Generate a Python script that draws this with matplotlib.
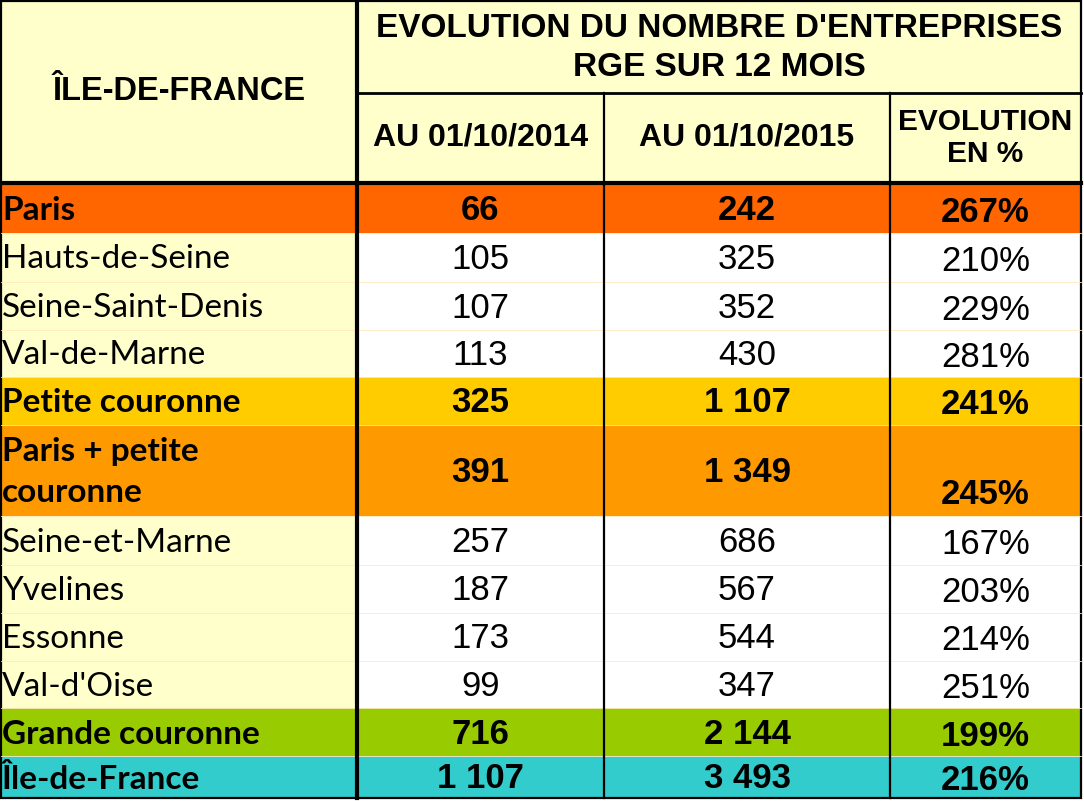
import matplotlib.pyplot as plt
from matplotlib.patches import Rectangle

# donnees du tableau
regions = ["Paris", "Hauts-de-Seine", "Seine-Saint-Denis", "Val-de-Marne",
           "Petite couronne", "Paris + petite\ncouronne", "Seine-et-Marne",
           "Yvelines", "Essonne", "Val-d'Oise", "Grande couronne", "Île-de-France"]
val_2014 = [66, 105, 107, 113, 325, 391, 257, 187, 173, 99, 716, 1107]
val_2015 = [242, 325, 352, 430, 1107, 1349, 686, 567, 544, 347, 2144, 3493]
evolution = [267, 210, 229, 281, 241, 245, 167, 203, 214, 251, 199, 216]
row_colors = ["#FF6600", None, None, None, "#FFCC00", "#FF9900", None,
              None, None, None, "#99CC00", "#33CCCC"]

title = "EVOLUTION DU NOMBRE D'ENTREPRISES\nRGE SUR 12 MOIS"
corner = "ÎLE-DE-FRANCE"
col_heads = ["AU 01/10/2014", "AU 01/10/2015", "EVOLUTION\nEN %"]

# mise en page (pixels)
W, H = 1084, 801
col_x = [1, 357, 604, 890, 1081]
head_y = [1, 93, 183]
row_y = [183, 233, 282, 330, 377, 425, 516, 565, 613, 661, 708, 756, 798]
pale = "#FFFFCC"


def fmt(n):
    return f"{n:,}".replace(",", " ")


fig = plt.figure(figsize=(W / 100, H / 100), dpi=100)
ax = fig.add_axes([0, 0, 1, 1])
ax.set_xlim(0, W)
ax.set_ylim(H, 0)
ax.axis("off")

num_font = "Liberation Sans"
lab_font = "Lato"

# en-tete
ax.add_patch(Rectangle((col_x[0], head_y[0]), col_x[-1] - col_x[0], head_y[2] - head_y[0],
                       facecolor=pale, edgecolor="none"))
ax.text((col_x[0] + col_x[1]) / 2, 92, corner, ha="center", va="center",
        fontsize=23.5, fontweight="bold", family=num_font)
ax.text((col_x[1] + col_x[-1]) / 2, 48, title, ha="center", va="center",
        fontsize=24, fontweight="bold", family=num_font, linespacing=1.35)
for i, h in enumerate(col_heads):
    ax.text((col_x[i + 1] + col_x[i + 2]) / 2, 138, h, ha="center", va="center",
            fontsize=23 if i < 2 else 21.5, fontweight="bold", family=num_font,
            linespacing=1.15)

# lignes du tableau
for i, reg in enumerate(regions):
    y0, y1 = row_y[i], row_y[i + 1]
    c = row_colors[i]
    bold = c is not None
    if c:
        ax.add_patch(Rectangle((col_x[0], y0), col_x[-1] - col_x[0], y1 - y0,
                               facecolor=c, edgecolor="none"))
    else:
        ax.add_patch(Rectangle((col_x[0], y0), col_x[1] - col_x[0], y1 - y0,
                               facecolor=pale, edgecolor="none"))
    ym = (y0 + y1) / 2 + 2
    w = "bold" if bold else "normal"
    ax.text(2, ym, reg, ha="left", va="center", fontsize=24, fontweight=w,
            family=lab_font, linespacing=1.5)
    ax.text((col_x[1] + col_x[2]) / 2, ym, fmt(val_2014[i]), ha="center", va="center",
            fontsize=25, fontweight=w, family=num_font)
    ax.text((col_x[2] + col_x[3]) / 2, ym, fmt(val_2015[i]), ha="center", va="center",
            fontsize=25, fontweight=w, family=num_font)
    ye = ym if "\n" not in reg else y1 - 23
    ax.text((col_x[3] + col_x[4]) / 2, ye + 2, f"{evolution[i]}%", ha="center", va="center",
            fontsize=25, fontweight=w, family=num_font)
    if i < len(regions) - 1:
        ax.plot([col_x[0], col_x[-1]], [y1, y1], color="#FFE9C0", lw=0.6)

# traits noirs
ax.plot([col_x[1], col_x[1]], [0, row_y[-1]], color="black", lw=3)
for x in col_x[2:4]:
    ax.plot([x, x], [head_y[1], row_y[-1]], color="black", lw=1.6)
ax.plot([col_x[1], col_x[-1]], [head_y[1], head_y[1]], color="black", lw=2)
ax.plot([0, col_x[-1]], [head_y[2], head_y[2]], color="black", lw=3)
ax.add_patch(Rectangle((col_x[0], head_y[0]), col_x[-1] - col_x[0], row_y[-1] - head_y[0],
                       facecolor="none", edgecolor="black", lw=1.6))

fig.savefig("out.png", dpi=100)
